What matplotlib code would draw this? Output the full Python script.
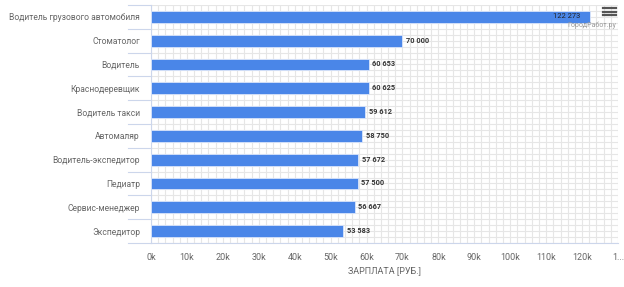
import numpy as np
import matplotlib.pyplot as plt
from matplotlib.lines import Line2D
from matplotlib.ticker import MultipleLocator

# data
jobs = ["Водитель грузового автомобиля", "Стоматолог", "Водитель", "Краснодеревщик",
        "Водитель такси", "Автомаляр", "Водитель-экспедитор", "Педиатр",
        "Сервис-менеджер", "Экспедитор"]
salary = [122273, 70000, 60653, 60625, 59612, 58750, 57672, 57500, 56667, 53583]
xticks = np.arange(0, 130001, 10000)
xtick_labels = ["0k", "10k", "20k", "30k", "40k", "50k", "60k", "70k", "80k",
                "90k", "100k", "110k", "120k", "1..."]

plt.rcParams['font.family'] = ['Roboto', 'DejaVu Sans']

fig = plt.figure(figsize=(6.24, 2.87), dpi=100)
W, H = 624, 287
ax = fig.add_axes([151 / W, 1 - 243 / H, (618 - 151) / W, (243 - 5) / H])

y = np.arange(len(jobs))
ax.barh(y, salary, height=0.5, color="#4a86e8", edgecolor="#dbe6fb", linewidth=0.6, zorder=3)

ax.set_xlim(0, 130000)
ax.set_ylim(len(jobs) - 0.5, -0.5)

# grid
ax.set_xticks(xticks)
ax.set_xticklabels(xtick_labels)
ax.xaxis.set_minor_locator(MultipleLocator(2000))
ax.set_yticks(y)
ax.set_yticklabels(jobs)
ax.grid(True, which="both", axis="x", color="#e6e6e6", linewidth=0.8, zorder=0)
for v in np.arange(-0.5, len(jobs), 0.25):
    ax.axhline(v, color="#e6e6e6", linewidth=0.8, zorder=0)

for s in ["top", "right"]:
    ax.spines[s].set_visible(False)
ax.spines["left"].set_color("#ccd6eb")
ax.spines["bottom"].set_color("#ccd6eb")
ax.spines["left"].set_linewidth(0.8)
ax.spines["bottom"].set_linewidth(0.8)

ax.tick_params(axis="x", which="both", length=0, colors="#666666", labelsize=6.5, pad=7)
ax.tick_params(axis="y", which="both", length=0, colors="#666666", labelsize=6.15, pad=8)
for v in np.arange(-0.5, len(jobs), 1.0):
    ax.plot([-0.05, 0], [v, v], transform=ax.get_yaxis_transform(), color="#ccd6eb",
            linewidth=0.8, clip_on=False)

ax.set_xlabel("ЗАРПЛАТА [РУБ.]", color="#666666", fontsize=6.5, labelpad=3)

# value labels
for i, v in enumerate(salary):
    txt = f"{v:,}".replace(",", " ")
    if i == 0:
        ax.text(v - 2800, i, txt, ha="right", va="center", fontsize=5.4,
                color="#222222", zorder=4)
    else:
        ax.text(v + 1000, i, txt, ha="left", va="center", fontsize=5.3,
                fontweight="bold", color="#333333", zorder=4)

fig.text(616 / W, 1 - 25 / H, "ГородРабот.ру", ha="right", va="center",
         fontsize=5, color="#999999")

# menu icon
for yy in [8, 11.5, 15]:
    fig.add_artist(Line2D([603 / W, 616 / W], [1 - yy / H, 1 - yy / H],
                          color="#555555", linewidth=1.6))

fig.savefig("out.png", dpi=100)
